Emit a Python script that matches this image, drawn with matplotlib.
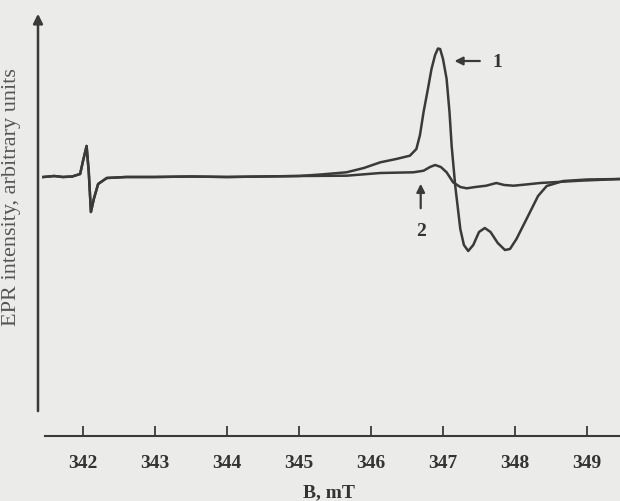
import matplotlib
matplotlib.use("Agg")
import matplotlib.pyplot as plt

# EPR spectra (B in mT, intensity in arbitrary units)
b_common = [341.45, 341.60, 341.72, 341.85, 341.96, 342.00, 342.05, 342.08, 342.11,
            342.15, 342.21, 342.33, 342.6, 343.0, 343.5, 344.0, 344.5, 345.0]
epr_common = [0.0, 0.1, 0.0, 0.05, 0.3, 1.6, 3.1, 0.5, -3.5,
              -2.2, -0.7, -0.1, 0.0, 0.0, 0.05, 0.0, 0.05, 0.1]

b1 = [345.3, 345.66, 345.9, 346.13, 346.35, 346.54, 346.63, 346.68, 346.73, 346.79,
      346.84, 346.89, 346.93, 346.96, 347.00, 347.05, 347.09, 347.12, 347.17, 347.24,
      347.29, 347.35, 347.42, 347.50, 347.58, 347.66, 347.76, 347.86, 347.93, 348.02,
      348.16, 348.32, 348.44, 348.67, 349.0, 349.46]
epr1 = [0.25, 0.47, 0.9, 1.47, 1.8, 2.13, 2.8, 4.2, 6.5, 8.8,
        10.8, 12.2, 12.85, 12.8, 11.8, 9.8, 6.5, 3.1, -0.9, -5.2,
        -6.8, -7.4, -6.8, -5.5, -5.1, -5.5, -6.6, -7.3, -7.2, -6.2,
        -4.2, -1.9, -0.9, -0.4, -0.25, -0.2]

b2 = [345.66, 346.13, 346.59, 346.73, 346.82, 346.89, 346.97, 347.05, 347.14, 347.24,
      347.33, 347.45, 347.6, 347.74, 347.85, 347.98, 348.15, 348.35, 348.9, 349.46]
epr2 = [0.13, 0.4, 0.47, 0.63, 1.0, 1.2, 1.0, 0.47, -0.53, -1.0,
        -1.13, -1.0, -0.87, -0.6, -0.8, -0.87, -0.75, -0.6, -0.37, -0.2]

xticks = [342, 343, 344, 345, 346, 347, 348, 349]

bg = "#ebebe9"
ink = "#3a3a3a"
serif = ["Liberation Serif", "DejaVu Serif"]

fig = plt.figure(figsize=(6.2, 5.02), dpi=100, facecolor=bg)
ax = fig.add_axes([38 / 620, 65 / 502, 582 / 620, 425 / 502])
ax.set_facecolor(bg)

ax.plot(b_common + b1, epr_common + epr1, color=ink, lw=1.8)
ax.plot(b_common + b2, epr_common + epr2, color=ink, lw=1.8)

ax.set_xlim(341.375, 349.458)
ax.set_ylim(-25.9, 16.6)

for s in ["top", "right", "left"]:
    ax.spines[s].set_visible(False)
ax.spines["bottom"].set_bounds(341.47, 349.46)
ax.spines["bottom"].set_color(ink)
ax.spines["bottom"].set_linewidth(1.5)

# y axis drawn as an arrow
ax.annotate("", xy=(0, 1.0), xytext=(0, 0.052), xycoords="axes fraction",
            arrowprops=dict(arrowstyle="-|>", color=ink, lw=1.8, mutation_scale=14))

ax.set_yticks([])
ax.set_xticks(xticks)
ax.set_xticklabels([str(t) for t in xticks], fontfamily=serif, fontsize=14,
                   fontweight="bold", color="#333333")
ax.tick_params(axis="x", direction="in", length=7, width=1.3, color=ink, pad=13)

ax.set_xlabel("B, mT", fontfamily=serif, fontsize=14, fontweight="bold",
              color="#333333", labelpad=9)
fig.text(12 / 620, 1 - 197 / 502, "EPR intensity, arbitrary units", rotation=90,
         ha="center", va="center", fontfamily=serif, fontsize=16, color="#555555")

# curve labels
ax.annotate("", xy=(347.12, 11.6), xytext=(347.55, 11.6),
            arrowprops=dict(arrowstyle="-|>", color=ink, lw=1.6, mutation_scale=12))
ax.text(347.75, 11.6, "1", fontfamily=serif, fontsize=14, fontweight="bold",
        color="#333333", ha="center", va="center")
ax.annotate("", xy=(346.69, -0.4), xytext=(346.69, -3.4),
            arrowprops=dict(arrowstyle="-|>", color=ink, lw=1.6, mutation_scale=12))
ax.text(346.69, -5.4, "2", fontfamily=serif, fontsize=14, fontweight="bold",
        color="#333333", ha="center", va="center")

fig.savefig("out.png", dpi=100, facecolor=bg)
